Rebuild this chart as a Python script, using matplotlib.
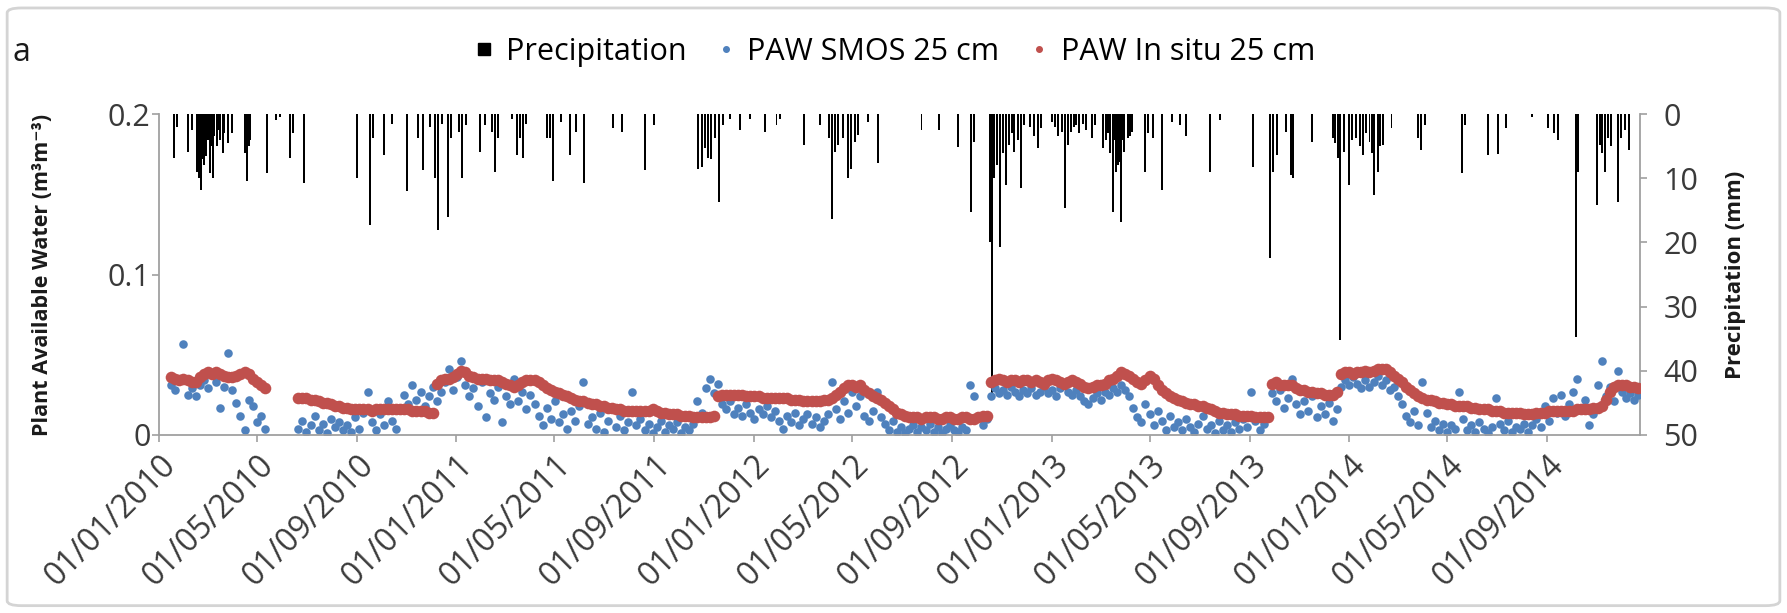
import matplotlib
matplotlib.use("Agg")
import matplotlib.pyplot as plt
import matplotlib.dates as mdates
from matplotlib.lines import Line2D
from matplotlib.patches import FancyBboxPatch
import pandas as pd

plt.rcParams['font.family'] = ['Open Sans', 'DejaVu Sans']

# daily rainfall (mm), dry days left out
rain_dates = [
    '2010-01-19', '2010-01-23', '2010-02-06', '2010-02-10', '2010-02-17', '2010-02-19', '2010-02-21', '2010-02-23', '2010-02-25', '2010-02-28',
    '2010-03-02', '2010-03-04', '2010-03-06', '2010-03-08', '2010-03-10', '2010-03-13', '2010-03-15', '2010-03-17', '2010-03-20', '2010-03-22', '2010-03-27', '2010-03-31',
    '2010-04-16', '2010-04-19', '2010-04-21', '2010-04-23', '2010-05-14', '2010-05-25', '2010-05-29', '2010-06-11', '2010-06-14', '2010-06-28',
    '2010-09-01', '2010-09-17', '2010-09-21', '2010-10-04', '2010-10-14', '2010-11-01', '2010-11-15', '2010-11-21', '2010-11-30',
    '2010-12-06', '2010-12-09', '2010-12-14', '2010-12-22', '2010-12-26',
    '2011-01-04', '2011-01-08', '2011-01-13', '2011-01-30', '2011-02-05', '2011-02-14', '2011-02-17', '2011-02-21', '2011-03-10', '2011-03-16',
    '2011-03-20', '2011-03-24', '2011-03-28', '2011-04-22', '2011-04-26', '2011-04-30', '2011-05-10', '2011-05-20', '2011-05-28', '2011-06-07',
    '2011-07-12', '2011-07-23', '2011-08-20', '2011-09-01', '2011-10-25', '2011-10-29', '2011-11-02', '2011-11-06', '2011-11-10', '2011-11-14',
    '2011-11-20', '2011-11-24', '2011-12-03', '2011-12-15', '2011-12-27',
    '2012-01-15', '2012-01-29', '2012-02-02', '2012-03-03', '2012-03-22', '2012-04-03', '2012-04-06', '2012-04-10', '2012-04-14', '2012-04-20',
    '2012-04-26', '2012-04-30', '2012-05-04', '2012-05-08', '2012-05-20', '2012-06-02', '2012-07-25', '2012-08-15', '2012-09-08', '2012-09-24',
    '2012-09-28', '2012-10-17', '2012-10-19', '2012-10-22', '2012-10-26', '2012-10-29', '2012-11-02', '2012-11-06', '2012-11-10', '2012-11-13',
    '2012-11-16', '2012-11-20', '2012-11-24', '2012-11-28', '2012-12-05', '2012-12-10', '2012-12-15', '2012-12-19',
    '2013-01-01', '2013-01-05', '2013-01-09', '2013-01-13', '2013-01-17', '2013-01-21', '2013-01-25', '2013-01-28', '2013-01-31', '2013-02-03',
    '2013-02-08', '2013-02-12', '2013-02-19', '2013-02-23', '2013-03-05', '2013-03-08', '2013-03-11', '2013-03-14', '2013-03-17', '2013-03-19',
    '2013-03-21', '2013-03-23', '2013-03-25', '2013-03-27', '2013-03-29', '2013-03-31', '2013-04-04', '2013-04-07', '2013-04-10', '2013-04-25',
    '2013-04-29', '2013-05-05', '2013-05-16', '2013-05-28', '2013-06-07', '2013-06-15', '2013-07-14', '2013-07-26', '2013-09-05', '2013-09-26',
    '2013-09-30', '2013-10-04', '2013-10-16', '2013-10-22', '2013-10-24', '2013-11-16', '2013-12-12', '2013-12-15', '2013-12-18', '2013-12-21',
    '2013-12-26',
    '2014-01-01', '2014-01-05', '2014-01-10', '2014-01-14', '2014-01-18', '2014-01-22', '2014-01-26', '2014-01-29', '2014-02-01', '2014-02-05',
    '2014-02-08', '2014-02-11', '2014-02-22', '2014-03-27', '2014-03-30', '2014-04-04', '2014-05-19', '2014-05-23', '2014-06-21', '2014-07-03',
    '2014-07-13', '2014-08-13', '2014-09-02', '2014-09-09', '2014-09-15', '2014-10-07', '2014-10-09', '2014-11-01', '2014-11-05', '2014-11-08',
    '2014-11-11', '2014-11-15', '2014-11-19', '2014-11-27', '2014-12-01', '2014-12-06', '2014-12-11',
]
rain_mm = [
    6.9, 2.0, 5.9, 2.5, 9.0, 10.0, 11.8, 7.0, 8.0, 6.5,
    4.0, 9.2, 5.0, 10.0, 3.5, 5.0, 2.5, 4.0, 6.0, 3.0, 4.5, 3.0,
    6.0, 10.5, 5.0, 4.0, 9.2, 1.0, 0.5, 6.9, 3.0, 10.8,
    10.0, 17.3, 3.8, 6.4, 1.5, 12.0, 3.8, 8.7, 2.0,
    10.0, 18.0, 1.5, 16.0, 3.8,
    2.8, 10.0, 1.7, 5.9, 1.7, 2.8, 9.0, 3.8, 0.7, 6.4,
    3.8, 6.9, 1.5, 3.8, 3.8, 10.5, 1.2, 6.4, 2.8, 10.8,
    2.2, 2.8, 8.7, 1.7, 8.5, 8.2, 5.3, 6.9, 7.0, 3.8,
    13.7, 1.7, 0.7, 2.5, 0.7,
    2.8, 1.7, 0.7, 4.8, 1.7, 3.8, 16.3, 5.9, 4.8, 3.8,
    10.0, 8.5, 4.3, 3.2, 1.2, 7.7, 2.5, 2.5, 5.1, 15.2,
    4.3, 19.9, 44.0, 10.0, 8.0, 20.7, 6.0, 11.0, 4.8, 3.0,
    5.9, 4.0, 11.6, 1.7, 2.0, 3.5, 5.3, 2.2,
    1.2, 2.0, 3.5, 2.8, 14.7, 4.8, 2.8, 2.0, 1.7, 3.0,
    1.5, 2.5, 3.8, 1.7, 5.3, 4.0, 3.0, 6.0, 15.2, 4.0,
    9.0, 8.0, 7.5, 16.8, 4.0, 5.9, 3.8, 3.5, 2.8, 9.0,
    3.0, 3.8, 11.8, 1.2, 1.7, 3.5, 9.0, 1.0, 8.2, 22.5,
    9.0, 6.4, 2.8, 9.5, 10.0, 4.3, 3.8, 4.5, 6.9, 35.2,
    5.9,
    11.0, 4.0, 3.8, 5.0, 6.4, 3.0, 4.3, 6.0, 12.6, 9.0,
    5.0, 4.8, 2.2, 3.8, 5.6, 1.7, 9.2, 1.7, 6.4, 6.2,
    2.2, 0.5, 2.2, 3.0, 4.0, 34.7, 9.0, 14.2, 4.8, 6.0,
    9.0, 3.8, 5.0, 13.7, 3.8, 2.5, 5.6,
]

# plant available water (m3/m3), one reading every 5 days, two recording periods
paw_start_1 = '2010-01-16'
smos_1 = [.031, .028, .035, .057, .025, .029, .024, .031, .034, .029, .038, .033,
          .017, .030, .051, .028, .020, .012, .003, .022, .018, .008, .012, .004]
insitu_1 = [.036, .035, .034, .035, .034, .033, .033, .036, .038, .039, .038, .039,
            .038, .037, .036, .036, .037, .038, .039, .038, .035, .033, .031, .029]

paw_start_2 = '2010-06-21'
smos_2 = [
    .004, .009, .002, .006, .012, .003, .007, .001, .010, .005, .008, .003,
    .006, .002, .011, .004, .014, .027, .008, .003, .013, .006, .021, .009,
    .004, .016, .025, .019, .031, .022, .027, .018, .024, .030, .021, .027,
    .033, .041, .028, .036, .046, .031, .024, .029, .018, .033, .011, .026,
    .022, .030, .008, .024, .019, .035, .021, .027, .016, .025, .019, .012,
    .006, .017, .010, .021, .008, .013, .004, .015, .009, .018, .033, .007,
    .011, .004, .014, .002, .009, .016, .005, .012, .003, .008, .027, .006,
    .010, .003, .007, .001, .005, .009, .002, .006, .004, .008, .001, .005,
    .003, .007, .021, .014, .029, .035, .026, .032, .019, .016, .021, .013,
    .017, .012, .019, .014, .010, .016, .013, .018, .011, .015, .009, .004,
    .012, .008, .014, .006, .010, .013, .007, .011, .005, .009, .013, .033,
    .016, .010, .021, .014, .027, .018, .024, .012, .009, .015, .027, .011,
    .007, .003, .009, .002, .005, .001, .004, .006, .002, .005, .003, .007,
    .002, .005, .001, .004, .006, .003, .002, .005, .003, .031, .024, .012,
    .006, .010, .024, .029, .026, .028, .025, .030, .027, .024, .028, .026,
    .029, .025, .027, .030, .026, .028, .024, .029, .031, .027, .025, .028,
    .024, .021, .019, .023, .026, .022, .027, .025, .029, .027, .031, .028,
    .024, .017, .011, .008, .019, .013, .006, .015, .009, .003, .012, .005,
    .008, .003, .010, .005, .002, .007, .012, .004, .006, .001, .009, .003,
    .006, .002, .008, .004, .010, .005, .027, .009, .003, .007, .012, .026,
    .021, .028, .017, .023, .035, .019, .013, .021, .015, .024, .011, .018,
    .013, .020, .009, .016, .030, .034, .031, .036, .032, .029, .034, .030,
    .033, .037, .031, .034, .028, .030, .024, .019, .012, .008, .015, .006,
    .033, .014, .005, .009, .003, .007, .002, .006, .004, .027, .010, .003,
    .006, .002, .008, .004, .001, .005, .023, .007, .003, .009, .002, .005,
    .004, .007, .002, .006, .010, .005, .018, .009, .023, .014, .025, .012,
    .019, .027, .035, .016, .022, .006, .013, .031, .046, .024, .030, .021,
    .040, .027, .023, .026, .022, .025,
]
insitu_2 = [
    .023, .023, .023, .022, .022, .021, .020, .020, .019, .018, .018, .017,
    .017, .016, .016, .016, .016, .016, .015, .016, .016, .016, .016, .016,
    .016, .016, .016, .016, .015, .015, .015, .015, .014, .014, .032, .034,
    .035, .035, .036, .038, .040, .039, .037, .036, .035, .035, .035, .034,
    .034, .034, .033, .032, .031, .030, .031, .033, .034, .034, .034, .033,
    .031, .029, .028, .027, .026, .025, .024, .023, .022, .021, .021, .020,
    .019, .019, .018, .018, .017, .017, .016, .016, .015, .015, .015, .015,
    .015, .015, .015, .016, .015, .014, .014, .013, .013, .013, .012, .012,
    .012, .011, .011, .011, .011, .011, .012, .024, .025, .025, .025, .025,
    .025, .025, .024, .024, .024, .024, .023, .023, .023, .023, .023, .023,
    .023, .022, .022, .022, .021, .021, .021, .021, .021, .022, .022, .023,
    .025, .027, .029, .031, .031, .030, .031, .028, .026, .024, .023, .022,
    .020, .018, .016, .014, .013, .012, .011, .011, .011, .010, .011, .011,
    .011, .010, .010, .011, .011, .010, .010, .011, .011, .010, .010, .011,
    .012, .012, .033, .034, .035, .034, .033, .034, .034, .033, .034, .034,
    .033, .034, .033, .032, .034, .035, .034, .033, .032, .033, .034, .033,
    .032, .030, .029, .030, .031, .031, .032, .034, .035, .037, .039, .038,
    .037, .035, .033, .032, .034, .037, .035, .031, .028, .026, .024, .023,
    .022, .021, .020, .019, .019, .018, .018, .017, .016, .015, .014, .014,
    .013, .013, .013, .012, .012, .012, .012, .011, .011, .011, .011, .032,
    .033, .031, .031, .031, .031, .029, .028, .028, .027, .027, .026, .026,
    .025, .025, .025, .027, .038, .039, .039, .038, .039, .039, .040, .039,
    .040, .041, .041, .041, .039, .037, .035, .033, .030, .028, .026, .024,
    .023, .022, .022, .021, .020, .020, .019, .019, .018, .018, .018, .018,
    .017, .017, .016, .016, .016, .015, .015, .015, .014, .014, .014, .014,
    .014, .013, .013, .013, .014, .014, .014, .015, .015, .015, .015, .015,
    .015, .015, .016, .016, .016, .016, .017, .017, .018, .022, .027, .030,
    .031, .031, .031, .030, .030, .029,
]

blue = '#4F81BD'
red = '#C0504D'
axis_grey = '#a0a0a0'
text_col = '#3a3a3a'

fig = plt.figure(figsize=(17.87, 6.13), dpi=100)
ax = fig.add_axes([0.089, 0.2904, 0.8287, 0.5236])
ax2 = ax.twinx()

# rain hangs from the top on an inverted axis
ax2.bar(pd.to_datetime(rain_dates), rain_mm, width=2.4, color='black', linewidth=0)
ax2.set_ylim(50, 0)
ax2.set_yticks([0, 10, 20, 30, 40, 50])

for start, smos, insitu in [(paw_start_1, smos_1, insitu_1), (paw_start_2, smos_2, insitu_2)]:
    days = pd.date_range(start, periods=len(smos), freq='5D')
    ax.scatter(days, smos, s=38, color=blue, linewidths=0, zorder=2)
    days = pd.date_range(start, periods=len(insitu), freq='5D')
    ax.scatter(days, insitu, s=70, color=red, linewidths=0, zorder=3)

ax.set_zorder(ax2.get_zorder() + 1)
ax.patch.set_visible(False)

ax.set_ylim(0, 0.2)
ax.set_yticks([0, 0.1, 0.2])
ax.set_yticklabels(['0', '0.1', '0.2'])
ax.set_xlim(pd.Timestamp('2010-01-01'), pd.Timestamp('2014-12-24'))
ax.xaxis.set_major_locator(mdates.MonthLocator(bymonth=[1, 5, 9]))
ax.xaxis.set_major_formatter(mdates.DateFormatter('%d/%m/%Y'))

for a in (ax, ax2):
    a.spines['top'].set_visible(False)
    for side in ('left', 'right', 'bottom'):
        a.spines[side].set_color(axis_grey)
        a.spines[side].set_linewidth(1.3)
    a.tick_params(colors=axis_grey, labelcolor=text_col, labelsize=22, length=5, width=1.2)
ax.spines['right'].set_visible(False)
ax2.spines['left'].set_visible(False)
ax2.spines['bottom'].set_visible(False)
ax.tick_params(axis='y', pad=1)
ax2.tick_params(axis='y', pad=12)
ax.tick_params(axis='x', labelsize=23, pad=5)
for lab in ax.get_xticklabels():
    lab.set_rotation(45)
    lab.set_ha('right')
    lab.set_rotation_mode('anchor')

fig.text(0.024, 0.552, 'Plant Available Water (m³m⁻³)', rotation=90, ha='center', va='center',
         fontsize=15.5, fontweight='bold', color='#1a1a1a')
fig.text(0.971, 0.552, 'Precipitation (mm)', rotation=90, ha='center', va='center',
         fontsize=16, fontweight='bold', color='#1a1a1a')
fig.text(0.007, 0.915, 'a', fontsize=23, ha='left', va='center', color='#1a1a1a')

handles = [
    Line2D([], [], marker='s', color='black', linestyle='none', markersize=9),
    Line2D([], [], marker='o', color=blue, linestyle='none', markersize=4),
    Line2D([], [], marker='o', color=red, linestyle='none', markersize=4),
]
fig.legend(handles, ['Precipitation', 'PAW SMOS 25 cm', 'PAW In situ 25 cm'],
           loc='center', bbox_to_anchor=(0.5, 0.915), ncol=3, frameon=False,
           fontsize=22, handlelength=0.8, handletextpad=0.3, columnspacing=0.9)

fig.patches.append(FancyBboxPatch((0.004, 0.012), 0.992, 0.975, boxstyle='round,pad=0,rounding_size=0.008',
                                  transform=fig.transFigure, facecolor='none', edgecolor='#d4d4d4', linewidth=2))

fig.savefig('out.png', dpi=100)
